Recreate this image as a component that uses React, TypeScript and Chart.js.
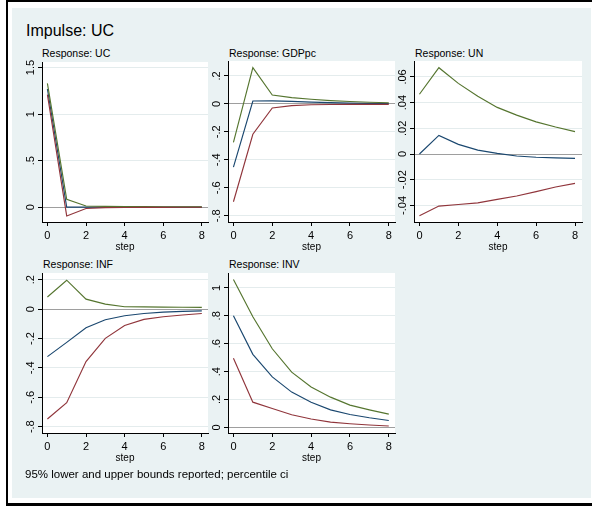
import React, { useEffect, useRef } from "react";
import { Chart, registerables } from "chart.js";

Chart.register(...registerables);

// ---------- data ----------
const steps = [0, 1, 2, 3, 4, 5, 6, 7, 8];
const xTicks = [0, 2, 4, 6, 8];

const ucIrf = [1.27, 0.0, 0.0, 0.0, 0.0, 0.0, 0.0, 0.0, 0.0];
const ucLower = [1.21, -0.095, -0.015, -0.006, -0.004, -0.003, -0.002, -0.001, -0.001];
const ucUpper = [1.33, 0.083, 0.012, 0.008, 0.006, 0.005, 0.004, 0.003, 0.003];
const ucTicks = [0, 0.5, 1, 1.5];

const gdpIrf = [-0.452, 0.021, 0.022, 0.018, 0.013, 0.009, 0.006, 0.004, 0.003];
const gdpLower = [-0.7, -0.217, -0.029, -0.012, -0.006, -0.004, -0.003, -0.003, -0.003];
const gdpUpper = [-0.276, 0.26, 0.064, 0.045, 0.033, 0.024, 0.017, 0.012, 0.008];
const gdpTicks = [-0.8, -0.6, -0.4, -0.2, 0, 0.2];

const unIrf = [0.0, 0.0145, 0.0075, 0.003, 0.0005, -0.0015, -0.0025, -0.003, -0.0034];
const unLower = [-0.048, -0.0405, -0.0393, -0.038, -0.0353, -0.0327, -0.0293, -0.0257, -0.0228];
const unUpper = [0.0465, 0.0672, 0.055, 0.045, 0.0363, 0.0303, 0.025, 0.021, 0.0174];
const unTicks = [-0.04, -0.02, 0, 0.02, 0.04, 0.06];

const infIrf = [-0.323, -0.226, -0.127, -0.072, -0.045, -0.03, -0.02, -0.015, -0.012];
const infLower = [-0.748, -0.637, -0.357, -0.199, -0.111, -0.07, -0.052, -0.04, -0.03];
const infUpper = [0.083, 0.197, 0.068, 0.034, 0.016, 0.015, 0.014, 0.013, 0.012];
const infTicks = [-0.8, -0.6, -0.4, -0.2, 0, 0.2];

const invIrf = [0.8, 0.524, 0.362, 0.253, 0.181, 0.126, 0.093, 0.069, 0.05];
const invLower = [0.496, 0.181, 0.136, 0.091, 0.06, 0.038, 0.026, 0.017, 0.01];
const invUpper = [1.06, 0.793, 0.564, 0.396, 0.29, 0.217, 0.16, 0.126, 0.095];
const invTicks = [0, 0.2, 0.4, 0.6, 0.8, 1];

const impulseTitle = "Impulse: UC";
const footnote = "95% lower and upper bounds reported; percentile ci";
const xTitle = "step";

// ---------- styles ----------
const FONT = '"Liberation Sans", Arial, sans-serif';
const BG = "#EAF2F3";
const NAVY = "#1A476F";
const MAROON = "#90353B";
const GREEN = "#55752F";

const Y_AXIS_W = 32;
const PAD_TOP = 12;
const PAD_RIGHT = 8;
const X_AXIS_H = 36;

function fmt(v: number): string {
  const s = String(+v.toFixed(6));
  return s.replace(/^(-?)0\./, "$1.");
}

const plotBgPlugin = {
  id: "plotBg",
  beforeDraw(chart: any) {
    const { ctx, chartArea } = chart;
    ctx.save();
    ctx.fillStyle = "#ffffff";
    ctx.fillRect(chartArea.left, chartArea.top, chartArea.right - chartArea.left, chartArea.bottom - chartArea.top);
    ctx.restore();
  },
};

const yLabelPlugin = {
  id: "yLabels",
  afterDraw(chart: any) {
    const s = chart.scales.y;
    const ctx = chart.ctx;
    ctx.save();
    ctx.font = `11px ${FONT}`;
    ctx.fillStyle = "#000";
    ctx.textAlign = "center";
    ctx.textBaseline = "middle";
    for (const t of s.ticks) {
      const y = s.getPixelForValue(t.value);
      ctx.save();
      ctx.translate(chart.chartArea.left - 11, y);
      ctx.rotate(-Math.PI / 2);
      ctx.fillText(fmt(t.value), 0, 0);
      ctx.restore();
    }
    ctx.restore();
  },
};

type PanelProps = {
  irf: number[];
  lower: number[];
  upper: number[];
  yTicks: number[];
  yMin: number;
  yMax: number;
  xMax: number;
  left: number;
  top: number;
  width: number;
  height: number;
};

function Panel(p: PanelProps) {
  const ref = useRef<HTMLCanvasElement | null>(null);
  const cw = p.width + Y_AXIS_W + PAD_RIGHT;
  const ch = p.height + PAD_TOP + X_AXIS_H;

  useEffect(() => {
    if (!ref.current) return;
    const mk = (data: number[], color: string) => ({
      data: steps.map((s, i) => ({ x: s, y: data[i] })),
      borderColor: color,
      borderWidth: 1.15,
      pointRadius: 0,
      tension: 0,
      fill: false,
    });
    const chart = new Chart(ref.current, {
      type: "line",
      data: {
        datasets: [mk(p.lower, MAROON), mk(p.upper, GREEN), mk(p.irf, NAVY)],
      },
      options: {
        responsive: false,
        animation: false,
        devicePixelRatio: 1,
        layout: { padding: { top: PAD_TOP, right: PAD_RIGHT, left: 0, bottom: 0 } },
        plugins: { legend: { display: false }, tooltip: { enabled: false }, title: { display: false } },
        scales: {
          x: {
            type: "linear",
            min: -0.28,
            max: p.xMax,
            afterBuildTicks: (s: any) => {
              s.ticks = xTicks.map((v) => ({ value: v }));
            },
            afterFit: (s: any) => {
              s.height = X_AXIS_H;
            },
            grid: { drawOnChartArea: false, drawTicks: true, tickLength: 4, tickColor: "#000" },
            border: { display: true, color: "#000", width: 1 },
            ticks: {
              font: { family: FONT, size: 11 },
              color: "#000",
              padding: 3,
              maxRotation: 0,
              callback: (v: any) => fmt(Number(v)),
            },
            title: {
              display: true,
              text: xTitle,
              color: "#000",
              font: { family: FONT, size: 10 },
              padding: { top: 0, bottom: 5 },
            },
          },
          y: {
            type: "linear",
            min: p.yMin,
            max: p.yMax,
            afterBuildTicks: (s: any) => {
              s.ticks = p.yTicks.map((v) => ({ value: v }));
            },
            afterFit: (s: any) => {
              s.width = Y_AXIS_W;
            },
            grid: {
              drawOnChartArea: true,
              drawTicks: true,
              tickLength: 4,
              tickColor: "#000",
              color: (c: any) => (c.tick && Math.abs(c.tick.value) < 1e-9 ? "#9e9e9e" : "#e4eced"),
              lineWidth: 1,
            },
            border: { display: true, color: "#000", width: 1 },
            ticks: { display: false },
          },
        },
      },
      plugins: [plotBgPlugin, yLabelPlugin],
    } as any);
    return () => chart.destroy();
  }, []);

  return (
    <canvas
      ref={ref}
      width={cw}
      height={ch}
      style={{
        position: "absolute",
        left: p.left - Y_AXIS_W,
        top: p.top - PAD_TOP,
        width: cw,
        height: ch,
        display: "block",
      }}
    />
  );
}

function PanelTitle({ text, left, top }: { text: string; left: number; top: number }) {
  return (
    <div
      style={{
        position: "absolute",
        left,
        top,
        fontFamily: FONT,
        fontSize: 10.5,
        lineHeight: "10.5px",
        whiteSpace: "nowrap",
        color: "#000",
      }}
    >
      {text}
    </div>
  );
}

export default function App() {
  const row1Top = 61;
  const row2Top = 273;
  return (
    <div
      style={{
        position: "absolute",
        left: 0,
        top: 0,
        width: 592,
        height: 508,
        overflow: "hidden",
        background: "#ffffff",
      }}
    >
      <div
        style={{
          position: "absolute",
          left: 6,
          top: 0,
          width: 586,
          height: 506,
          boxSizing: "border-box",
          borderTop: "2px solid #000",
          borderLeft: "2px solid #000",
          borderBottom: "3px solid #000",
        }}
      />
      <div style={{ position: "absolute", left: 12, top: 8, width: 579, height: 490, background: BG }} />
      <div
        style={{
          position: "absolute",
          left: 26,
          top: 23,
          fontFamily: FONT,
          fontSize: 16,
          lineHeight: "16px",
          whiteSpace: "nowrap",
          color: "#000",
        }}
      >
        {impulseTitle}
      </div>

      <PanelTitle text="Response: UC" left={42} top={48} />
      <PanelTitle text="Response: GDPpc" left={229} top={48} />
      <PanelTitle text="Response: UN" left={415} top={48} />
      <PanelTitle text="Response: INF" left={43} top={259} />
      <PanelTitle text="Response: INV" left={229} top={259} />

      <Panel irf={ucIrf} lower={ucLower} upper={ucUpper} yTicks={ucTicks} yMin={-0.16} yMax={1.56} xMax={8.32} left={42} top={62} width={166} height={160} />
      <Panel irf={gdpIrf} lower={gdpLower} upper={gdpUpper} yTicks={gdpTicks} yMin={-0.845} yMax={0.307} xMax={8.32} left={228} top={row1Top} width={167} height={161} />
      <Panel irf={unIrf} lower={unLower} upper={unUpper} yTicks={unTicks} yMin={-0.0529} yMax={0.0724} xMax={8.36} left={414} top={row1Top} width={168} height={161} />
      <Panel irf={infIrf} lower={infLower} upper={infUpper} yTicks={infTicks} yMin={-0.843} yMax={0.246} xMax={8.32} left={42} top={row2Top} width={166} height={160} />
      <Panel irf={invIrf} lower={invLower} upper={invUpper} yTicks={invTicks} yMin={-0.04} yMax={1.107} xMax={8.32} left={228} top={row2Top} width={167} height={160} />

      <div
        style={{
          position: "absolute",
          left: 25,
          top: 469,
          fontFamily: FONT,
          fontSize: 11.5,
          lineHeight: "11.5px",
          whiteSpace: "nowrap",
          color: "#000",
        }}
      >
        {footnote}
      </div>
    </div>
  );
}
